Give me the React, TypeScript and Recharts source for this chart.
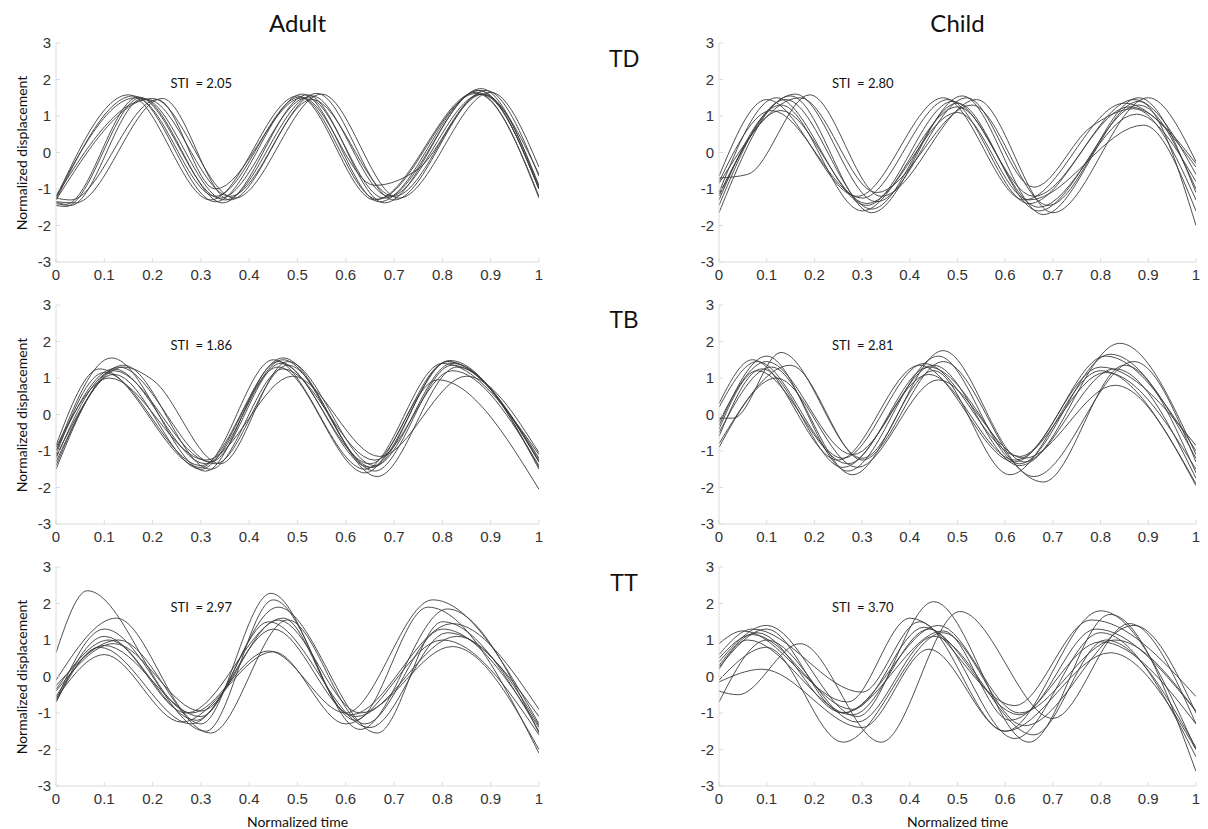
import React from 'react';
import { LineChart, Line, XAxis, YAxis } from 'recharts';

// Each curve is a list of [normalized time, normalized displacement] key points
// (start, peaks, troughs, end).
type Curve = [number, number][];

const adultTD: Curve[] = [
  [[0, -1.25], [0.15, 1.58], [0.32, -1.3], [0.5, 1.55], [0.66, -1.3], [0.87, 1.65], [1, -1.25]],
  [[0, -1.3], [0.16, 1.55], [0.33, -1.35], [0.51, 1.6], [0.67, -1.35], [0.875, 1.7], [1, -1.0]],
  [[0, -1.35], [0.02, -1.42], [0.17, 1.52], [0.34, -1.25], [0.52, 1.5], [0.68, -1.25], [0.88, 1.75], [1, -0.95]],
  [[0, -1.4], [0.03, -1.45], [0.18, 1.48], [0.35, -1.3], [0.53, 1.55], [0.69, -1.2], [0.88, 1.6], [1, -0.6]],
  [[0, -1.2], [0.19, 1.45], [0.36, -1.2], [0.54, 1.62], [0.7, -1.3], [0.89, 1.7], [1, -0.65]],
  [[0, -1.3], [0.2, 1.48], [0.37, -1.25], [0.55, 1.6], [0.71, -1.25], [0.9, 1.65], [1, -0.4]],
  [[0, -1.35], [0.04, -1.38], [0.22, 1.48], [0.36, -1.3], [0.53, 1.45], [0.7, -1.2], [0.885, 1.6], [1, -0.9]],
  [[0, -1.25], [0.03, -1.3], [0.21, 1.45], [0.33, -1.0], [0.51, 1.5], [0.66, -0.9], [0.75, -0.45], [0.88, 1.6], [1, -1.0]],
  [[0, -1.45], [0.02, -1.48], [0.175, 1.5], [0.345, -1.38], [0.52, 1.58], [0.68, -1.38], [0.875, 1.7], [1, -1.0]],
  [[0, -1.2], [0.165, 1.5], [0.33, -1.2], [0.505, 1.52], [0.665, -1.28], [0.87, 1.62], [1, -1.2]],
];

const childTD: Curve[] = [
  [[0, -0.65], [0.1, 1.45], [0.29, -1.2], [0.47, 1.5], [0.64, -1.3], [0.85, 1.35], [1, -0.4]],
  [[0, -0.8], [0.11, 1.15], [0.3, -1.25], [0.48, 1.45], [0.65, -1.4], [0.86, 1.25], [1, -0.3]],
  [[0, -1.1], [0.12, 1.5], [0.31, -1.45], [0.49, 1.4], [0.66, -1.2], [0.87, 1.45], [1, -0.6]],
  [[0, -1.3], [0.13, 1.3], [0.3, -1.6], [0.5, 1.25], [0.67, -1.5], [0.875, 1.05], [1, -0.8]],
  [[0, -1.45], [0.14, 1.45], [0.32, -1.55], [0.5, 1.35], [0.67, -1.6], [0.88, 1.3], [1, -1.0]],
  [[0, -1.65], [0.15, 1.55], [0.32, -1.65], [0.51, 1.55], [0.68, -1.7], [0.88, 1.4], [1, -2.0]],
  [[0, -0.7], [0.06, -0.6], [0.19, 1.58], [0.34, -1.2], [0.54, 1.45], [0.7, -1.65], [0.9, 1.5], [1, -0.25]],
  [[0, -1.15], [0.16, 1.6], [0.33, -1.35], [0.52, 1.5], [0.66, -0.95], [0.78, 0.7], [0.87, 1.2], [1, -1.3]],
  [[0, -1.2], [0.13, 1.15], [0.31, -1.4], [0.5, 1.1], [0.65, -1.3], [0.89, 0.75], [1, -1.6]],
  [[0, -0.85], [0.17, 1.5], [0.33, -1.1], [0.53, 1.3], [0.69, -1.45], [0.88, 1.5], [1, -1.1]],
];

const adultTB: Curve[] = [
  [[0, -0.85], [0.09, 1.25], [0.3, -1.45], [0.45, 1.5], [0.64, -1.5], [0.8, 1.4], [1, -1.1]],
  [[0, -1.0], [0.115, 1.55], [0.31, -1.55], [0.46, 1.45], [0.65, -1.35], [0.81, 1.45], [1, -1.2]],
  [[0, -1.1], [0.1, 1.15], [0.3, -1.4], [0.47, 1.55], [0.66, -1.55], [0.82, 1.35], [1, -1.3]],
  [[0, -1.2], [0.12, 1.2], [0.32, -1.3], [0.465, 1.4], [0.65, -1.45], [0.815, 1.48], [1, -1.45]],
  [[0, -1.5], [0.13, 1.3], [0.33, -1.35], [0.48, 1.35], [0.665, -1.7], [0.83, 1.3], [1, -1.5]],
  [[0, -1.3], [0.14, 1.35], [0.32, -1.5], [0.47, 1.25], [0.66, -1.25], [0.82, 1.2], [1, -1.4]],
  [[0, -0.9], [0.11, 1.0], [0.31, -1.25], [0.49, 1.05], [0.67, -1.15], [0.85, 1.05], [1, -1.05]],
  [[0, -1.4], [0.12, 1.1], [0.3, -1.5], [0.46, 1.3], [0.64, -1.6], [0.79, 0.95], [1, -2.05]],
  [[0, -1.15], [0.14, 1.3], [0.2, 0.95], [0.34, -1.35], [0.48, 1.45], [0.66, -1.4], [0.82, 1.4], [1, -1.3]],
  [[0, -1.0], [0.12, 1.25], [0.31, -1.35], [0.47, 1.5], [0.655, -1.45], [0.81, 1.45], [1, -1.25]],
];

const childTB: Curve[] = [
  [[0, 0.3], [0.07, 1.5], [0.25, -1.25], [0.42, 1.35], [0.62, -1.3], [0.8, 1.3], [1, -0.85]],
  [[0, 0.2], [0.08, 1.45], [0.26, -1.2], [0.43, 1.4], [0.63, -1.15], [0.81, 1.6], [1, -1.0]],
  [[0, -0.1], [0.03, -0.1], [0.13, 1.7], [0.3, -1.2], [0.47, 1.75], [0.64, -1.3], [0.84, 1.95], [1, -1.1]],
  [[0, -0.3], [0.1, 1.6], [0.27, -1.55], [0.46, 1.6], [0.63, -1.35], [0.82, 1.65], [1, -1.2]],
  [[0, -0.5], [0.11, 1.3], [0.28, -1.65], [0.45, 1.2], [0.61, -1.65], [0.8, 1.2], [1, -1.9]],
  [[0, -0.6], [0.09, 1.25], [0.26, -1.45], [0.44, 1.1], [0.62, -1.25], [0.81, 1.15], [1, -1.5]],
  [[0, -0.8], [0.15, 1.35], [0.3, -1.25], [0.47, 1.45], [0.66, -1.7], [0.87, 1.45], [1, -1.3]],
  [[0, -0.9], [0.12, 1.0], [0.29, -1.45], [0.46, 0.95], [0.64, -1.2], [0.83, 0.8], [1, -1.95]],
  [[0, -0.4], [0.08, 1.2], [0.27, -1.35], [0.44, 1.3], [0.68, -1.85], [0.85, 1.35], [1, -1.6]],
  [[0, -0.2], [0.1, 1.45], [0.28, -1.1], [0.45, 1.35], [0.63, -1.4], [0.83, 1.25], [1, -1.75]],
];

const adultTT: Curve[] = [
  [[0, 0.65], [0.065, 2.35], [0.28, -1.0], [0.44, 0.7], [0.6, -1.0], [0.78, 2.1], [1, -1.3]],
  [[0, -0.1], [0.125, 1.6], [0.3, -1.3], [0.445, 2.28], [0.62, -1.2], [0.77, 1.9], [1, -2.1]],
  [[0, -0.65], [0.1, 1.3], [0.31, -1.5], [0.45, 2.1], [0.63, -1.45], [0.81, 1.85], [1, -1.55]],
  [[0, -0.7], [0.1, 1.1], [0.29, -1.2], [0.46, 1.9], [0.665, -1.55], [0.8, 1.5], [1, -1.5]],
  [[0, -0.35], [0.11, 1.0], [0.27, -1.0], [0.47, 1.6], [0.61, -1.05], [0.82, 1.45], [1, -0.9]],
  [[0, -0.25], [0.13, 1.0], [0.32, -1.55], [0.48, 1.55], [0.64, -1.3], [0.8, 1.3], [1, -1.4]],
  [[0, -0.55], [0.1, 0.85], [0.3, -1.1], [0.44, 1.5], [0.65, -1.4], [0.81, 1.2], [1, -1.1]],
  [[0, -0.7], [0.09, 0.8], [0.28, -1.3], [0.45, 1.3], [0.62, -1.1], [0.83, 1.1], [1, -1.35]],
  [[0, -0.6], [0.1, 0.6], [0.26, -1.25], [0.45, 0.68], [0.6, -1.3], [0.8, 1.0], [1, -1.6]],
  [[0, -0.4], [0.12, 0.9], [0.3, -0.95], [0.46, 1.55], [0.63, -1.0], [0.82, 0.82], [1, -2.0]],
];

const childTT: Curve[] = [
  [[0, 0.9], [0.05, 1.25], [0.27, -0.7], [0.4, 1.6], [0.62, -0.8], [0.78, 1.55], [1, -0.55]],
  [[0, 0.6], [0.07, 1.3], [0.3, -0.43], [0.42, 1.5], [0.6, -1.5], [0.8, 1.8], [1, -2.0]],
  [[0, 0.4], [0.1, 1.4], [0.29, -1.1], [0.45, 2.05], [0.65, -1.8], [0.82, 1.7], [1, -2.6]],
  [[0, 0.3], [0.08, 1.2], [0.26, -1.0], [0.46, 1.4], [0.63, -1.0], [0.83, 1.0], [1, -0.95]],
  [[0, 0.2], [0.06, 1.0], [0.28, -1.05], [0.44, 1.3], [0.62, -1.7], [0.8, 1.2], [1, -2.2]],
  [[0, -0.1], [0.1, 0.8], [0.26, -1.8], [0.47, 1.2], [0.64, -1.35], [0.87, 1.4], [1, -1.0]],
  [[0, -0.4], [0.04, -0.5], [0.17, 0.9], [0.34, -1.8], [0.505, 1.78], [0.7, -1.15], [0.86, 1.45], [1, -1.3]],
  [[0, -0.7], [0.1, 1.0], [0.29, -1.25], [0.45, 1.1], [0.66, -1.6], [0.81, 1.0], [1, -1.95]],
  [[0, -0.15], [0.09, 0.2], [0.3, -1.4], [0.44, 0.75], [0.6, -1.5], [0.82, 0.65], [1, -2.0]],
  [[0, 0.5], [0.07, 1.15], [0.28, -0.9], [0.43, 1.35], [0.63, -1.05], [0.79, 1.3], [1, -0.95]],
  [[0, 0.25], [0.1, 1.3], [0.26, -1.0], [0.47, 1.25], [0.61, -1.2], [0.8, 0.95], [1, -1.3]],
];

const xTicks = [0, 0.1, 0.2, 0.3, 0.4, 0.5, 0.6, 0.7, 0.8, 0.9, 1];
const yTicks = [-3, -2, -1, 0, 1, 2, 3];

const groups = ['Adult', 'Child'];
const tasks = ['TD', 'TB', 'TT'];
const stiValues = [
  ['2.05', '2.80'],
  ['1.86', '2.81'],
  ['2.97', '3.70'],
];
const panels = [
  [adultTD, childTD],
  [adultTB, childTB],
  [adultTT, childTT],
];

// layout
const ROW_TOPS = [43, 305, 567];
const PLOT_H = 219;
const COLS = [
  { left: 56, width: 483 },
  { left: 719, width: 477 },
];
const Y_AXIS_W = 40;
const X_AXIS_H = 30;
const M_TOP = 10;
const M_RIGHT = 15;

const AXIS_COLOR = '#dcdcdc';
const TICK_COLOR = '#333';
const LINE_COLOR = '#3c3c3c';
const tickFont = '"Liberation Sans", Arial, sans-serif';
const textFont = 'Lato, "Open Sans", sans-serif';

const XTick = (props: any) => {
  const { x, y, payload } = props;
  return (
    <g>
      <line x1={x} y1={y} x2={x} y2={y - 4} stroke={AXIS_COLOR} />
      <text x={x} y={y + 18} textAnchor="middle" fontSize={15} fill={TICK_COLOR} fontFamily={tickFont}>
        {payload.value}
      </text>
    </g>
  );
};

const YTick = (props: any) => {
  const { x, y, payload } = props;
  return (
    <g>
      <line x1={x} y1={y} x2={x + 4} y2={y} stroke={AXIS_COLOR} />
      <text x={x - 5} y={y + 5} textAnchor="end" fontSize={15} fill={TICK_COLOR} fontFamily={tickFont}>
        {payload.value}
      </text>
    </g>
  );
};

function Panel({ curves, left, top, width }: { curves: Curve[]; left: number; top: number; width: number }) {
  return (
    <div style={{ position: 'absolute', left: left - Y_AXIS_W, top: top - M_TOP }}>
      <LineChart
        width={width + Y_AXIS_W + M_RIGHT}
        height={PLOT_H + M_TOP + X_AXIS_H}
        margin={{ top: M_TOP, right: M_RIGHT, bottom: 0, left: 0 }}
      >
        <XAxis
          dataKey="x"
          type="number"
          domain={[0, 1]}
          ticks={xTicks}
          interval={0}
          height={X_AXIS_H}
          tickSize={0}
          tickMargin={0}
          tickLine={false}
          stroke={AXIS_COLOR}
          tick={<XTick />}
          allowDataOverflow
        />
        <YAxis
          type="number"
          domain={[-3, 3]}
          ticks={yTicks}
          interval={0}
          width={Y_AXIS_W}
          tickSize={0}
          tickMargin={0}
          tickLine={false}
          stroke={AXIS_COLOR}
          tick={<YTick />}
          allowDataOverflow
        />
        {curves.map((c, i) => (
          <Line
            key={i}
            data={c.map(([x, y]) => ({ x, y }))}
            dataKey="y"
            type="monotone"
            stroke={LINE_COLOR}
            strokeWidth={1}
            strokeOpacity={0.9}
            dot={false}
            activeDot={false}
            isAnimationActive={false}
          />
        ))}
      </LineChart>
    </div>
  );
}

export default function App() {
  return (
    <div style={{ position: 'absolute', left: 0, top: 0, width: 1208, height: 829, background: '#fff', overflow: 'hidden' }}>
      {groups.map((g, ci) => (
        <div
          key={g}
          style={{
            position: 'absolute',
            left: COLS[ci].left + COLS[ci].width / 2,
            top: 22,
            transform: 'translate(-50%, -50%)',
            fontFamily: textFont,
            fontSize: 24,
            color: '#111',
          }}
        >
          {g}
        </div>
      ))}
      {tasks.map((t, ri) => (
        <div
          key={t}
          style={{
            position: 'absolute',
            left: 624,
            top: ROW_TOPS[ri] + [16, 15, 16][ri],
            transform: 'translate(-50%, -50%)',
            fontFamily: tickFont,
            fontSize: 23,
            color: '#111',
          }}
        >
          {t}
        </div>
      ))}
      {panels.map((row, ri) =>
        row.map((curves, ci) => (
          <React.Fragment key={`${ri}-${ci}`}>
            <Panel curves={curves} left={COLS[ci].left} top={ROW_TOPS[ri]} width={COLS[ci].width} />
            <div
              style={{
                position: 'absolute',
                left: COLS[ci].left + COLS[ci].width * 0.237,
                top: ROW_TOPS[ri] + 40,
                transform: 'translateY(-50%)',
                fontFamily: textFont,
                fontSize: 13,
                whiteSpace: 'pre',
                color: '#111',
              }}
            >
              {`STI  = ${stiValues[ri][ci]}`}
            </div>
          </React.Fragment>
        ))
      )}
      {ROW_TOPS.map((top, ri) => (
        <div
          key={`yl-${ri}`}
          style={{
            position: 'absolute',
            left: 21,
            top: top + PLOT_H / 2,
            transform: 'translate(-50%, -50%) rotate(-90deg)',
            fontFamily: textFont,
            fontSize: 14,
            whiteSpace: 'nowrap',
            color: '#111',
          }}
        >
          Normalized displacement
        </div>
      ))}
      {COLS.map((col, ci) => (
        <div
          key={`xl-${ci}`}
          style={{
            position: 'absolute',
            left: col.left + col.width / 2,
            top: 821,
            transform: 'translate(-50%, -50%)',
            fontFamily: textFont,
            fontSize: 14,
            whiteSpace: 'nowrap',
            color: '#111',
          }}
        >
          Normalized time
        </div>
      ))}
    </div>
  );
}
